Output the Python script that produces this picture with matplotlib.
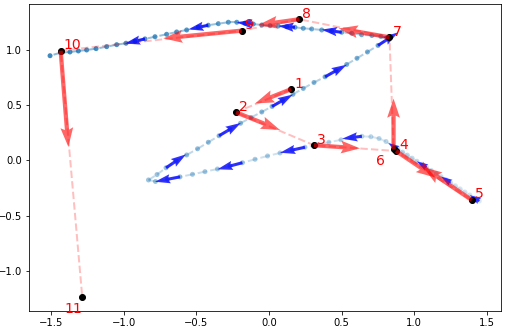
import numpy as np
import matplotlib.pyplot as plt
from matplotlib.collections import LineCollection

# measured points 1..11 (black dots)
pt_x = [0.152, -0.227, 0.310, 0.875, 1.396, 0.858, 0.830, 0.209, -0.188, -1.435, -1.286]
pt_y = [0.645, 0.436, 0.138, 0.086, -0.357, 0.100, 1.115, 1.278, 1.175, 0.994, -1.238]
pt_lab = ['1', '2', '3', '4', '5', '6', '7', '8', '9', '10', '11']

# red direction arrows at points 1..10
vec_u = [-0.248, 0.303, 0.317, 0.270, -0.335, 0.000, -0.350, -0.283, -0.540, 0.053]
vec_v = [-0.129, -0.160, -0.028, -0.240, 0.298, 0.460, 0.080, -0.052, -0.070, -0.870]

# smoothed trajectory (blue dotted curve)
traj_x = [1.449, 1.416, 1.383, 1.350, 1.317, 1.284, 1.251, 1.218, 1.185, 1.152,
          1.118, 1.085, 1.052, 1.019, 0.986, 0.953, 0.920, 0.887, 0.854,
          0.806, 0.758, 0.702, 0.640, 0.572, 0.496, 0.413, 0.331, 0.248, 0.162,
          0.076, -0.010, -0.096, -0.183, -0.269, -0.355, -0.441, -0.527, -0.613, -0.699,
          -0.782, -0.830,
          -0.771, -0.709, -0.640, -0.567, -0.492, -0.418, -0.344, -0.269, -0.196, -0.124,
          -0.050, 0.021, 0.093, 0.165, 0.236, 0.310, 0.386, 0.461, 0.535, 0.606,
          0.678, 0.751, 0.820,
          0.771, 0.709, 0.638, 0.570, 0.501, 0.432, 0.363, 0.294, 0.236, 0.179,
          0.122, 0.064, 0.007, -0.050, -0.108, -0.165, -0.222, -0.280, -0.349, -0.418,
          -0.487, -0.567, -0.636, -0.705, -0.785, -0.854, -0.923, -0.985, -1.049, -1.118,
          -1.191, -1.256, -1.313, -1.371, -1.435, -1.508]
traj_y = [-0.367, -0.340, -0.312, -0.285, -0.257, -0.229, -0.201, -0.173, -0.145, -0.118,
          -0.090, -0.062, -0.035, -0.007, 0.021, 0.049, 0.076, 0.104, 0.131,
          0.172, 0.199, 0.215, 0.219, 0.208, 0.187, 0.165, 0.143, 0.120, 0.095,
          0.068, 0.041, 0.011, -0.020, -0.050, -0.077, -0.101, -0.125, -0.148, -0.170,
          -0.190, -0.176,
          -0.127, -0.066, -0.005, 0.050, 0.106, 0.165, 0.224, 0.282, 0.337, 0.389,
          0.439, 0.489, 0.543, 0.599, 0.652, 0.706, 0.757, 0.812, 0.869, 0.925,
          0.982, 1.041, 1.100,
          1.122, 1.131, 1.138, 1.151, 1.160, 1.172, 1.181, 1.190, 1.196, 1.205,
          1.211, 1.217, 1.220, 1.226, 1.235, 1.242, 1.251, 1.251, 1.238, 1.224,
          1.205, 1.181, 1.163, 1.142, 1.120, 1.100, 1.079, 1.061, 1.048, 1.030,
          1.012, 1.000, 0.991, 0.982, 0.976, 0.948]

# trajectory samples that carry a velocity arrow
arrow_idx = [0, 6, 11, 17, 22, 27, 32, 37, 42, 47, 52, 57, 62, 68, 73, 78, 83, 89]

tx = np.array(traj_x)
ty = np.array(traj_y)
n = len(tx)

fig = plt.figure(figsize=(509/72, 328/72), dpi=72)
ax = fig.add_axes([29/509, 1-310.7/328, (500.7-29)/509, (310.7-4)/328])

#trajectory fades in with time
alphas = np.linspace(0.15, 0.85, n)
base = np.array(plt.matplotlib.colors.to_rgba('C0'))
seg_cols = np.tile(base, (n-1, 1))
seg_cols[:, 3] = alphas[:-1]*0.6
segs = [[(tx[i], ty[i]), (tx[i+1], ty[i+1])] for i in range(n-1)]
lc = LineCollection(segs, colors=seg_cols, linewidths=2, linestyles='--', zorder=1)
ax.add_collection(lc)
dot_cols = np.tile(base, (n, 1))
dot_cols[:, 3] = alphas
ax.scatter(tx, ty, s=25, c=dot_cols, linewidths=0, zorder=2)

#velocity arrows along the trajectory
ia = np.array(arrow_idx)
ax.quiver(tx[ia], ty[ia], 2*(tx[ia+1]-tx[ia]), 2*(ty[ia+1]-ty[ia]),
          angles='xy', scale_units='xy', scale=1, color='blue', alpha=0.8,
          width=0.0065, zorder=3)

#measurements
ax.plot(pt_x, pt_y, '--', color='red', alpha=0.25, lw=2, zorder=2)
ax.plot(pt_x, pt_y, 'o', color='black', ms=6, zorder=4)
ax.quiver(pt_x[:10], pt_y[:10], vec_u, vec_v, angles='xy', scale_units='xy', scale=1,
          color='red', alpha=0.6, width=0.009, headwidth=3, headlength=4.5,
          headaxislength=4, zorder=5)

for i in range(len(pt_x)):
    if pt_lab[i] in ('6', '11'):
        dx, dy = -0.12, -0.14
    else:
        dx, dy = 0.02, 0.015
    ax.text(pt_x[i]+dx, pt_y[i]+dy, pt_lab[i], color='red', fontsize=14, zorder=6)

ax.set_xlim(-1.653, 1.596)
ax.set_ylim(-1.359, 1.416)
plt.savefig('out.png', dpi=72)
